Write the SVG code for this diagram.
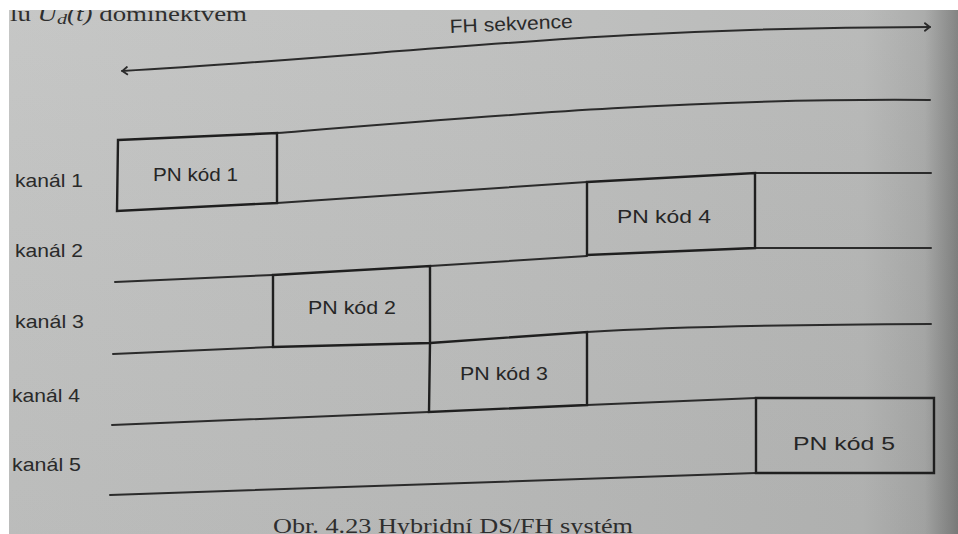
<svg xmlns="http://www.w3.org/2000/svg" width="958" height="534" viewBox="0 0 958 534">
<defs>
<linearGradient id="paper" x1="0" y1="0" x2="1" y2="0">
<stop offset="0" stop-color="#c3c4c3"/>
<stop offset="0.5" stop-color="#bdbebd"/>
<stop offset="0.9" stop-color="#b6b7b6"/>
<stop offset="0.965" stop-color="#a7a8a7"/>
<stop offset="1" stop-color="#7d7e7d"/>
</linearGradient>
<linearGradient id="shade" x1="0" y1="0" x2="0" y2="1">
<stop offset="0" stop-color="#ffffff" stop-opacity="0.05"/>
<stop offset="1" stop-color="#000000" stop-opacity="0.04"/>
</linearGradient>
<marker id="ah" viewBox="0 0 7 10" refX="6.5" refY="5" markerWidth="7" markerHeight="10" orient="auto-start-reverse" markerUnits="userSpaceOnUse">
<path d="M0.8,0.8 L6.2,5 L0.8,9.2" fill="none" stroke="#2b2b2b" stroke-width="1.8"/>
</marker>
<style>
.ln{fill:none;stroke:#2b2b2b;stroke-width:2;stroke-linecap:round}
.box{fill:none;stroke:#1f1f1f;stroke-width:2.4;stroke-linejoin:miter}
.lbl{font-family:"Liberation Sans",Arial,sans-serif;font-size:19px;fill:#2a2a2a}
.pn{font-family:"Liberation Sans",Arial,sans-serif;font-size:19px;fill:#262626}
.ser{font-family:"Liberation Serif","Times New Roman",serif;font-size:20px;fill:#2e2e2e}
</style>
</defs>
<rect x="0" y="0" width="958" height="534" fill="#ffffff"/>
<rect x="9" y="10" width="949" height="524" fill="url(#paper)"/>
<rect x="9" y="10" width="949" height="524" fill="url(#shade)"/>

<text class="ser" x="10" y="21" font-size="23" textLength="237" lengthAdjust="spacingAndGlyphs">lu <tspan font-style="italic">U</tspan><tspan font-size="15" dy="3" font-style="italic">d</tspan><tspan dy="-3" font-style="italic">(t)</tspan> dominektvém</text>
<rect x="0" y="0" width="958" height="10" fill="#ffffff"/>

<g id="connectors">
<path class="ln" d="M122,71 C400,55 600,27 930,27" marker-start="url(#ah)" marker-end="url(#ah)"/>
<path class="ln" d="M277,133 C500,115 700,98 930,100"/>
<path class="ln" d="M277,203 L587,182"/>
<path class="ln" d="M755,173 L931,173"/>
<path class="ln" d="M115,282 L273,275"/>
<path class="ln" d="M430,266 L587,256"/>
<path class="ln" d="M755,248 L931,248"/>
<path class="ln" d="M113,354 L273,347"/>
<path class="ln" d="M587,332 Q700,325 931,324"/>
<path class="ln" d="M112,425 L429,412"/>
<path class="ln" d="M587,405 L756,398"/>
<path class="ln" d="M110,495 L756,473"/>
</g>

<g id="fh-label">
<text class="lbl" x="450" y="33" font-size="18" textLength="123" lengthAdjust="spacingAndGlyphs" transform="rotate(-2.5 450 33)">FH sekvence</text>
</g>

<g id="channel-labels">
<text class="lbl" x="15" y="187" textLength="68" lengthAdjust="spacingAndGlyphs">kanál 1</text>
<text class="lbl" x="15" y="257" textLength="68" lengthAdjust="spacingAndGlyphs">kanál 2</text>
<text class="lbl" x="15" y="328" textLength="69" lengthAdjust="spacingAndGlyphs">kanál 3</text>
<text class="lbl" x="12" y="402" textLength="68" lengthAdjust="spacingAndGlyphs">kanál 4</text>
<text class="lbl" x="12" y="471" textLength="69" lengthAdjust="spacingAndGlyphs">kanál 5</text>
</g>

<g id="box1">
<polygon class="box" points="118,140 277,133 277,203 117,211"/>
<text class="pn" x="153" y="181" textLength="85" lengthAdjust="spacingAndGlyphs">PN kód 1</text>
</g>
<g id="box2">
<polygon class="box" points="273,275 430,266 430,343 273,347"/>
<text class="pn" x="308" y="314" textLength="88" lengthAdjust="spacingAndGlyphs">PN kód 2</text>
</g>
<g id="box3">
<polygon class="box" points="430,343 587,332 587,405 429,412"/>
<text class="pn" x="460" y="380" textLength="88" lengthAdjust="spacingAndGlyphs">PN kód 3</text>
</g>
<g id="box4">
<polygon class="box" points="587,182 755,173 755,248 587,255"/>
<text class="pn" x="617" y="223" font-size="20" textLength="94" lengthAdjust="spacingAndGlyphs">PN kód 4</text>
</g>
<g id="box5">
<polygon class="box" points="756,398 934,398 934,473 756,473"/>
<text class="pn" x="793" y="450" font-size="21" textLength="102" lengthAdjust="spacingAndGlyphs">PN kód 5</text>
</g>

<g id="caption">
<text class="ser" x="273" y="533" textLength="360" lengthAdjust="spacingAndGlyphs">Obr. 4.23 Hybridní DS/FH systém</text>
</g>
</svg>
